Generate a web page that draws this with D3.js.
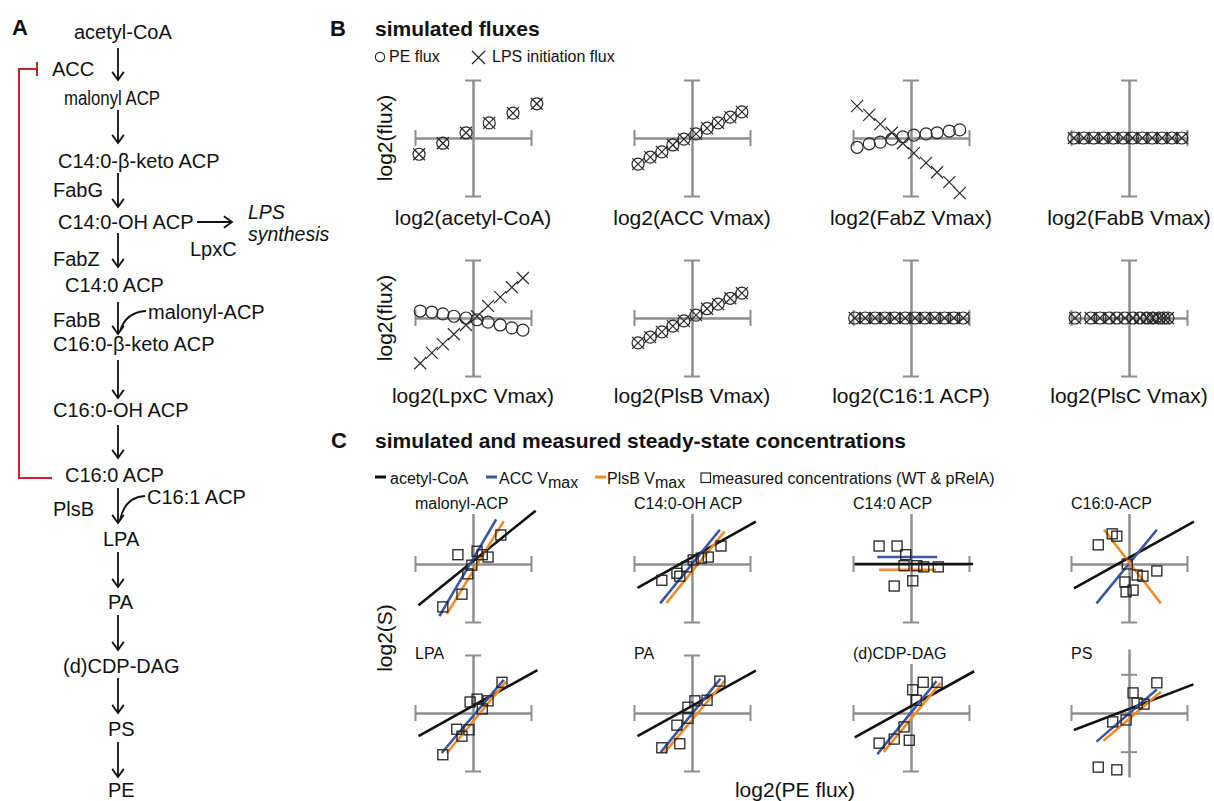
<!DOCTYPE html>
<html>
<head>
<meta charset="utf-8">
<script src="https://cdn.jsdelivr.net/npm/d3@7"></script>
<style>
  html, body { margin: 0; padding: 0; background: #fff; }
  svg { display: block; }
</style>
</head>
<body>
<svg id="fig" width="1214" height="801"></svg>
<script>
// ---------- Panel A: pathway labels ----------
const pathwaySpecies = ["acetyl-CoA", "malonyl ACP", "C14:0-\u03b2-keto ACP", "C14:0-OH ACP", "C14:0 ACP",
  "C16:0-\u03b2-keto ACP", "C16:0-OH ACP", "C16:0 ACP", "LPA", "PA", "(d)CDP-DAG", "PS", "PE"];
const pathwayEnzymes = ["ACC", "FabG", "FabZ", "FabB", "PlsB", "LpxC"];
const sideSubstrates = ["malonyl-ACP", "C16:1 ACP"];
const lpsBranch = ["LPS", "synthesis"];

// ---------- Panel B: simulated fluxes ----------
const fluxXLabels = ["log2(acetyl-CoA)", "log2(ACC Vmax)", "log2(FabZ Vmax)", "log2(FabB Vmax)",
  "log2(LpxC Vmax)", "log2(PlsB Vmax)", "log2(C16:1 ACP)", "log2(PlsC Vmax)"];
const fluxX = [
  [-0.93, -0.52, -0.12, 0.28, 0.69, 1.10],
  [-0.93, -0.72, -0.52, -0.33, -0.14, 0.07, 0.26, 0.45, 0.66, 0.86],
  [-0.93, -0.72, -0.53, -0.33, -0.14, 0.05, 0.26, 0.45, 0.66, 0.84],
  [-0.95, -0.78, -0.61, -0.44, -0.27, -0.10, 0.06, 0.23, 0.40, 0.57, 0.74, 0.91],
  [-0.91, -0.71, -0.52, -0.33, -0.12, 0.07, 0.26, 0.47, 0.67, 0.86],
  [-0.93, -0.72, -0.52, -0.33, -0.14, 0.07, 0.26, 0.45, 0.66, 0.86],
  [-0.97, -0.79, -0.62, -0.45, -0.28, -0.10, 0.07, 0.24, 0.41, 0.58, 0.74, 0.90],
  [-0.93, -0.66, -0.50, -0.34, -0.21, -0.07, 0.07, 0.19, 0.31, 0.41, 0.52, 0.60, 0.67]
];
const peFlux = [
  [-0.28, -0.09, 0.09, 0.26, 0.43, 0.59],
  [-0.45, -0.33, -0.24, -0.12, -0.02, 0.07, 0.17, 0.26, 0.36, 0.45],
  [-0.16, -0.10, -0.07, -0.02, 0.02, 0.05, 0.07, 0.09, 0.12, 0.14],
  [0, 0, 0, 0, 0, 0, 0, 0, 0, 0, 0, 0],
  [0.12, 0.10, 0.07, 0.03, 0.00, -0.03, -0.07, -0.12, -0.17, -0.21],
  [-0.43, -0.33, -0.24, -0.14, -0.05, 0.05, 0.16, 0.24, 0.34, 0.43],
  [0, 0, 0, 0, 0, 0, 0, 0, 0, 0, 0, 0],
  [0, 0, 0, 0, 0, 0, 0, 0, 0, 0, 0, 0, 0]
];
const lpsFlux = [
  [-0.28, -0.09, 0.09, 0.26, 0.43, 0.59],
  [-0.45, -0.33, -0.24, -0.12, -0.02, 0.07, 0.17, 0.26, 0.36, 0.45],
  [0.55, 0.40, 0.24, 0.09, -0.09, -0.26, -0.43, -0.59, -0.76, -0.95],
  [0, 0, 0, 0, 0, 0, 0, 0, 0, 0, 0, 0],
  [-0.78, -0.60, -0.45, -0.28, -0.12, 0.03, 0.21, 0.36, 0.53, 0.69],
  [-0.43, -0.33, -0.24, -0.14, -0.05, 0.05, 0.16, 0.24, 0.34, 0.43],
  [0, 0, 0, 0, 0, 0, 0, 0, 0, 0, 0, 0],
  [0, 0, 0, 0, 0, 0, 0, 0, 0, 0, 0, 0, 0]
];
const fluxLegend = ["PE flux", "LPS initiation flux"];

// ---------- Panel C: steady-state concentrations vs log2(PE flux) ----------
const concTitles = ["malonyl-ACP", "C14:0-OH ACP", "C14:0 ACP", "C16:0-ACP", "LPA", "PA", "(d)CDP-DAG", "PS"];
// y half-range of each panel (PS spans a wider range)
const concYDomain = [1, 1, 1, 1, 1, 1, 1, 1.5];
const concYAxisExtent = [1, 1, 1, 1, 1, 1, 1, 1.65];
// simulated lines: [x0, y0, x1, y1]
const acetylCoALine = [
  [-0.94, -0.71, 1.08, 0.92],
  [-0.94, -0.41, 1.10, 0.73],
  [-0.97, 0.00, 1.07, 0.00],
  [-0.95, -0.42, 1.12, 0.73],
  [-0.94, -0.40, 1.11, 0.74],
  [-0.94, -0.40, 1.10, 0.73],
  [-0.97, -0.42, 1.09, 0.72],
  [-0.95, -0.44, 1.11, 0.74]
];
const accVmaxLine = [
  [-0.58, -0.90, 0.40, 0.77],
  [-0.55, -0.68, 0.48, 0.59],
  [-0.58, 0.12, 0.45, 0.12],
  [-0.56, -0.68, 0.48, 0.59],
  [-0.54, -0.69, 0.53, 0.57],
  [-0.54, -0.68, 0.49, 0.59],
  [-0.58, -0.71, 0.44, 0.55],
  [-0.56, -0.74, 0.48, 0.61]
];
const plsbVmaxLine = [
  [-0.45, -0.86, 0.53, 0.74],
  [-0.44, -0.67, 0.56, 0.56],
  [-0.55, -0.10, 0.43, -0.10],
  [-0.43, 0.59, 0.55, -0.68],
  [-0.45, -0.69, 0.57, 0.54],
  [-0.47, -0.68, 0.57, 0.56],
  [-0.47, -0.67, 0.51, 0.52],
  [-0.44, -0.72, 0.55, 0.55]
];
const measuredX = [
  [-0.52, -0.19, -0.09, -0.02, -0.26, 0.07, 0.16, 0.26, 0.48],
  [-0.52, -0.26, -0.21, -0.09, 0.02, 0.16, 0.28, 0.50],
  [-0.55, -0.24, -0.09, -0.12, 0.10, 0.22, 0.47, -0.29, 0.03],
  [-0.53, -0.29, -0.21, -0.03, 0.14, 0.24, 0.48, -0.07, -0.05, 0.07],
  [-0.52, -0.28, -0.19, -0.07, -0.05, 0.07, 0.16, 0.26, 0.50],
  [-0.52, -0.21, -0.26, -0.07, -0.07, 0.05, 0.26, 0.48],
  [-0.55, -0.29, -0.12, -0.03, 0.03, 0.21, 0.45, 0.09],
  [-0.53, -0.21, -0.28, -0.05, 0.07, 0.14, 0.26, 0.48]
];
const measuredY = [
  [-0.74, -0.52, -0.17, -0.02, 0.16, 0.22, 0.16, 0.12, 0.50],
  [-0.28, -0.16, -0.21, -0.05, 0.07, 0.10, 0.12, 0.31],
  [0.31, 0.31, 0.16, -0.03, -0.03, -0.05, -0.05, -0.38, -0.29],
  [0.33, 0.52, 0.48, 0.00, -0.19, -0.21, -0.12, -0.31, -0.48, -0.45],
  [-0.72, -0.28, -0.40, -0.29, 0.19, 0.24, 0.07, 0.21, 0.53],
  [-0.60, -0.53, -0.21, -0.09, 0.10, 0.21, 0.22, 0.55],
  [-0.52, -0.45, -0.24, -0.47, 0.40, 0.53, 0.53, 0.22],
  [-1.40, -1.47, -0.23, -0.18, 0.52, 0.26, 0.23, 0.78]
];
const concLegend = ["acetyl-CoA", "ACC V", "PlsB V", "measured concentrations (WT & pRelA)"];

// ---------- drawing ----------
const FONT = '"Liberation Sans", Arial, Helvetica, sans-serif';
const AXIS_GREY = "#8e8e8e";
const BLUE = "#3c55a5";
const ORANGE = "#f68b1f";
const RED = "#c1272d";
const svg = d3.select("#fig").attr("font-family", FONT);

const colX = [473, 692, 911, 1129];
const fluxRowY = [138, 318];
const concRowY = [564, 713];
const HALF = 58;

function text(g, str, x, y, opts = {}) {
  const t = g.append("text").attr("x", x).attr("y", y).text(str)
    .attr("font-size", opts.size || 20).attr("fill", "#111");
  if (opts.anchor) t.attr("text-anchor", opts.anchor);
  if (opts.weight) t.attr("font-weight", opts.weight);
  if (opts.style) t.attr("font-style", opts.style);
  if (opts.length) t.attr("textLength", opts.length).attr("lengthAdjust", "spacingAndGlyphs");
  return t;
}

// ===== Panel A =====
const gA = svg.append("g");
text(gA, "A", 12, 35, { size: 22, weight: "bold" });

const speciesLayout = [[74, 39], [64, 105], [58, 168], [58, 229], [65, 292], [53, 351], [53, 417],
  [65, 482], [103, 546], [108, 609], [63, 673], [108, 736], [108, 797]];
pathwaySpecies.forEach((s, i) => {
  const opts = { size: 20 };
  if (s === "malonyl ACP") opts.length = 96;
  text(gA, s, speciesLayout[i][0], speciesLayout[i][1], opts);
});
const enzymeLayout = [[52, 76], [53, 197], [53, 266], [53, 327], [53, 516], [190, 256]];
pathwayEnzymes.forEach((s, i) => text(gA, s, enzymeLayout[i][0], enzymeLayout[i][1], { size: 20 }));
const sideLayout = [[148, 319], [147, 504]];
sideSubstrates.forEach((s, i) => text(gA, s, sideLayout[i][0], sideLayout[i][1], { size: 20 }));
// two-line italic branch label
const lpsText = gA.append("text").attr("font-size", 19.5).attr("font-style", "italic").attr("fill", "#111");
lpsText.append("tspan").attr("x", 248).attr("y", 219).text(lpsBranch[0]);
lpsText.append("tspan").attr("x", 248).attr("dy", 22).text(lpsBranch[1]);

function arrow(g, x1, y1, x2, y2) {
  g.append("line").attr("x1", x1).attr("y1", y1).attr("x2", x2).attr("y2", y2)
    .attr("stroke", "#111").attr("stroke-width", 1.8);
  const a = Math.atan2(y2 - y1, x2 - x1);
  const L = 10, W = 0.62;
  const p1 = [x2 - L * Math.cos(a - W), y2 - L * Math.sin(a - W)];
  const p2 = [x2 - L * Math.cos(a + W), y2 - L * Math.sin(a + W)];
  g.append("path").attr("d", `M${p1[0]},${p1[1]}L${x2},${y2}L${p2[0]},${p2[1]}`)
    .attr("fill", "none").attr("stroke", "#111").attr("stroke-width", 1.8)
    .attr("stroke-linejoin", "miter");
}
const ARROW_X = 118;
const arrowSpans = [[48, 80], [110, 143], [173, 207], [233, 267], [302, 334], [360, 398], [425, 458],
  [488, 523], [552, 587], [615, 650], [678, 713], [742, 777]];
arrowSpans.forEach(([a, b]) => arrow(gA, ARROW_X, a, ARROW_X, b));
arrow(gA, 197, 222, 232, 222);
// side substrates joining the main chain
gA.append("path").attr("d", "M146,311 Q126,312 120,331").attr("fill", "none")
  .attr("stroke", "#111").attr("stroke-width", 1.8);
gA.append("path").attr("d", "M145,496 Q125,497 120,520").attr("fill", "none")
  .attr("stroke", "#111").attr("stroke-width", 1.8);
// feedback inhibition of ACC by C16:0 ACP
gA.append("path").attr("d", "M52,478 H19 V69 H37").attr("fill", "none")
  .attr("stroke", RED).attr("stroke-width", 2);
gA.append("line").attr("x1", 37).attr("x2", 37).attr("y1", 62).attr("y2", 76)
  .attr("stroke", RED).attr("stroke-width", 2);

// ===== shared cross-shaped axes =====
function crossAxes(g, xs, ys, ticks) {
  const yZeroPx = ys(0), xZeroPx = xs(0);
  [d3.axisBottom, d3.axisTop].forEach(f => {
    g.append("g").attr("transform", `translate(0,${yZeroPx})`)
      .call(f(xs).tickValues([-1, 1]).tickSize(8).tickSizeOuter(0).tickFormat(""));
  });
  [d3.axisLeft, d3.axisRight].forEach(f => {
    g.append("g").attr("transform", `translate(${xZeroPx},0)`)
      .call(f(ys).tickValues(ticks).tickSize(8).tickSizeOuter(0).tickFormat(""));
  });
  g.selectAll(".domain, .tick line").attr("stroke", AXIS_GREY).attr("stroke-width", 2);
}

// ===== Panel B =====
const gB = svg.append("g");
text(gB, "B", 330, 36, { size: 22, weight: "bold" });
text(gB, "simulated fluxes", 375, 36, { size: 21, weight: "bold" });
// legend
gB.append("circle").attr("cx", 380).attr("cy", 57).attr("r", 4.6).attr("fill", "none")
  .attr("stroke", "#222").attr("stroke-width", 1.2);
text(gB, fluxLegend[0], 389, 62, { size: 16 });
gB.append("path").attr("d", "M472,51L485,64M472,64L485,51").attr("stroke", "#222").attr("stroke-width", 1.2);
text(gB, fluxLegend[1], 492, 62, { size: 16 });

const crossPath = (px, py, s) => `M${px - s},${py - s}L${px + s},${py + s}M${px - s},${py + s}L${px + s},${py - s}`;

fluxXLabels.forEach((lab, i) => {
  const cx = colX[i % 4], cy = fluxRowY[Math.floor(i / 4)];
  const x = d3.scaleLinear().domain([-1, 1]).range([cx - HALF, cx + HALF]);
  const y = d3.scaleLinear().domain([-1, 1]).range([cy + HALF, cy - HALF]);
  const g = gB.append("g");
  crossAxes(g, x, y, [-1, 1]);
  g.selectAll("circle.pe").data(d3.zip(fluxX[i], peFlux[i])).join("circle")
    .attr("class", "pe").attr("cx", d => x(d[0])).attr("cy", d => y(d[1])).attr("r", 6)
    .attr("fill", "none").attr("stroke", "#2a2a2a").attr("stroke-width", 1.2);
  g.selectAll("path.lps").data(d3.zip(fluxX[i], lpsFlux[i])).join("path")
    .attr("class", "lps").attr("d", d => crossPath(x(d[0]), y(d[1]), 6))
    .attr("fill", "none").attr("stroke", "#2a2a2a").attr("stroke-width", 1.2);
  text(g, lab, cx, Math.floor(i / 4) === 0 ? 225 : 403, { size: 21, anchor: "middle" });
});
fluxRowY.forEach(cy => {
  gB.append("text").attr("transform", `translate(392,${cy}) rotate(-90)`)
    .attr("text-anchor", "middle").attr("font-size", 21).attr("fill", "#111").text("log2(flux)");
});

// ===== Panel C =====
const gC = svg.append("g");
text(gC, "C", 331, 448, { size: 22, weight: "bold" });
text(gC, "simulated and measured steady-state concentrations", 375, 448, { size: 21, weight: "bold" });

// legend
const legY = 477;
gC.append("line").attr("x1", 375).attr("x2", 386).attr("y1", legY).attr("y2", legY).attr("stroke", "#111").attr("stroke-width", 3);
text(gC, concLegend[0], 390, 484, { size: 16 });
gC.append("line").attr("x1", 486).attr("x2", 497).attr("y1", legY).attr("y2", legY).attr("stroke", BLUE).attr("stroke-width", 3);
const tAcc = text(gC, concLegend[1], 499, 484, { size: 16 });
tAcc.append("tspan").attr("dy", 4).attr("font-size", 16).text("max");
gC.append("line").attr("x1", 595).attr("x2", 606).attr("y1", legY).attr("y2", legY).attr("stroke", ORANGE).attr("stroke-width", 3);
const tPls = text(gC, concLegend[2], 607, 484, { size: 16 });
tPls.append("tspan").attr("dy", 4).attr("font-size", 16).text("max");
gC.append("rect").attr("x", 701).attr("y", 473).attr("width", 9.5).attr("height", 9.5)
  .attr("fill", "none").attr("stroke", "#222").attr("stroke-width", 1.2);
text(gC, concLegend[3], 712, 484, { size: 16 });

concTitles.forEach((title, i) => {
  const row = Math.floor(i / 4);
  const cx = colX[i % 4], cy = concRowY[row];
  const yd = concYDomain[i], ye = concYAxisExtent[i];
  const x = d3.scaleLinear().domain([-1, 1]).range([cx - HALF, cx + HALF]);
  const y = d3.scaleLinear().domain([-yd, yd]).range([cy + HALF, cy - HALF]);
  const yAxisScale = y.copy().domain([-ye, ye]).range([y(-ye), y(ye)]);
  const g = gC.append("g");
  crossAxes(g, x, yAxisScale, [-1, 1]);

  // panel title on a white plate
  const plate = g.append("rect").attr("fill", "#fff");
  const t = text(g, title, cx - HALF, row === 0 ? 509 : 659, { size: 16 });
  const bb = t.node().getBBox();
  plate.attr("x", bb.x - 1).attr("y", bb.y).attr("width", bb.width + 2).attr("height", bb.height + 2);

  const sims = [
    { v: acetylCoALine[i], c: "#111" },
    { v: accVmaxLine[i], c: BLUE },
    { v: plsbVmaxLine[i], c: ORANGE }
  ];
  g.selectAll("line.sim").data(sims).join("line").attr("class", "sim")
    .attr("x1", d => x(d.v[0])).attr("y1", d => y(d.v[1]))
    .attr("x2", d => x(d.v[2])).attr("y2", d => y(d.v[3]))
    .attr("stroke", d => d.c).attr("stroke-width", 2.6);

  g.selectAll("rect.meas").data(d3.zip(measuredX[i], measuredY[i])).join("rect").attr("class", "meas")
    .attr("x", d => x(d[0]) - 5).attr("y", d => y(d[1]) - 5).attr("width", 10).attr("height", 10)
    .attr("fill", "none").attr("stroke", "#222").attr("stroke-width", 1.3);
});

gC.append("text").attr("transform", "translate(392,638) rotate(-90)")
  .attr("text-anchor", "middle").attr("font-size", 21).attr("fill", "#111").text("log2(S)");
text(gC, "log2(PE flux)", 795, 797, { size: 21, anchor: "middle" });
</script>
</body>
</html>
